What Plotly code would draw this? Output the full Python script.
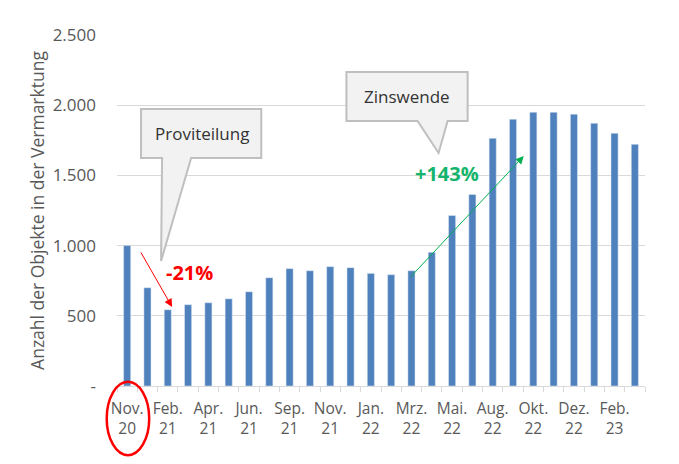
import plotly.graph_objects as go

# ---- data ----
values = [1000, 700, 543, 579, 593, 621, 671, 771, 836, 821, 850, 843, 802,
          793, 821, 952, 1214, 1364, 1764, 1900, 1950, 1950, 1936, 1871, 1800, 1721]
tick_labels = ["Nov.<br>20", "Feb.<br>21", "Apr.<br>21", "Jun.<br>21", "Sep.<br>21",
               "Nov.<br>21", "Jan.<br>22", "Mrz.<br>22", "Mai.<br>22", "Aug.<br>22",
               "Okt.<br>22", "Dez.<br>22", "Feb.<br>23"]
y_ticks = [0, 500, 1000, 1500, 2000, 2500]
y_tick_text = ["-", "500", "1.000", "1.500", "2.000", "2.500"]
y_title = "Anzahl der Objekte in der Vermarktung"

x = list(range(len(values)))
tick_pos = x[::2]

FONT = "Open Sans"
GRAY = "#595959"

fig = go.Figure()
fig.add_trace(go.Bar(x=x, y=values, marker_color="#4f81bd", width=0.35,
                     hoverinfo="skip"))

def callout(x0, x1, y0, y1, bx0, bx1, tx, ty):
    path = (f"M {x0},{y1} L {x1},{y1} L {x1},{y0} L {bx1},{y0} L {tx},{ty} "
            f"L {bx0},{y0} L {x0},{y0} Z")
    return dict(type="path", xref="x", yref="y", path=path,
                fillcolor="#f2f2f2", line=dict(color="#bfbfbf", width=2))

shapes = [
    callout(0.684, 6.604, 1624, 1973, 1.72, 3.15, 1.671, 890),
    callout(10.797, 16.767, 1888, 2237, 14.30, 15.78, 15.336, 1660),
    dict(type="circle", xref="paper", yref="paper", x0=-0.0195, x1=0.061,
         y0=-0.197, y1=0.012, line=dict(color="#ff0000", width=2.5)),
]

annotations = [
    dict(x=3.68, y=1798, xref="x", yref="y", text="Proviteilung", showarrow=False,
         font=dict(family=FONT, size=17, color="#333333")),
    dict(x=13.78, y=2062, xref="x", yref="y", text="Zinswende", showarrow=False,
         font=dict(family=FONT, size=17, color="#333333")),
    dict(x=2.213, y=563, ax=0.635, ay=962, xref="x", yref="y", axref="x", ayref="y",
         text="", showarrow=True, arrowhead=2, arrowsize=1.6, arrowwidth=1,
         arrowcolor="#ff0000"),
    dict(x=19.53, y=1638, ax=13.906, ay=769, xref="x", yref="y", axref="x", ayref="y",
         text="", showarrow=True, arrowhead=2, arrowsize=1.6, arrowwidth=1,
         arrowcolor="#00b050"),
    dict(x=3.05, y=812, xref="x", yref="y", text="<b>-21%</b>", showarrow=False,
         font=dict(family=FONT, size=20, color="#ff0000")),
    dict(x=15.73, y=1517, xref="x", yref="y", text="<b>+143%</b>", showarrow=False,
         font=dict(family=FONT, size=20, color="#14b46c")),
]

fig.update_layout(
    width=679, height=464,
    margin=dict(l=117, r=34, t=35, b=78),
    paper_bgcolor="white", plot_bgcolor="white",
    showlegend=False,
    font=dict(family=FONT, color=GRAY),
    shapes=shapes, annotations=annotations,
    xaxis=dict(range=[-0.5, len(values) - 0.5], tickmode="array",
               tickvals=tick_pos, ticktext=tick_labels, showgrid=False,
               zeroline=False, showline=True, linecolor="#d9d9d9", linewidth=1,
               ticks="", ticklabelstandoff=8,
               tickfont=dict(family=FONT, size=15.5, color=GRAY),
               minor=dict(tickmode="array",
                          tickvals=[i - 0.5 for i in range(len(values) + 1)],
                          ticks="outside", ticklen=5, tickcolor="#d9d9d9",
                          showgrid=False)),
    yaxis=dict(range=[0, 2500], tickmode="array", tickvals=y_ticks,
               ticktext=y_tick_text, showgrid=True, gridcolor="#d9d9d9",
               gridwidth=1, zeroline=False, showline=False, ticks="",
               ticklabelstandoff=20,
               tickfont=dict(family=FONT, size=17, color=GRAY),
               title=dict(text=y_title, standoff=3,
                          font=dict(family=FONT, size=17.5, color=GRAY))),
)

fig.write_html("out.html")
